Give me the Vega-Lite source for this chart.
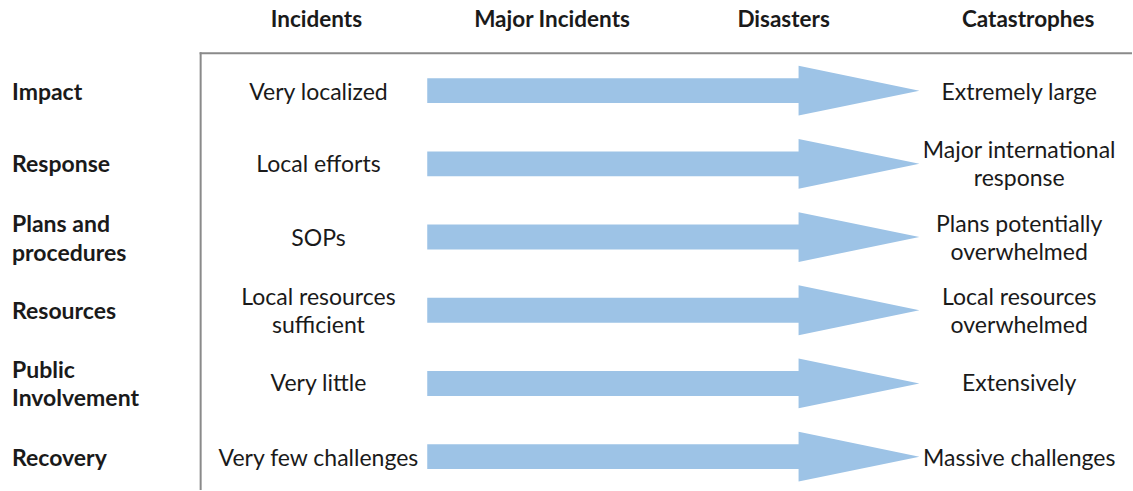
{
  "$schema": "https://vega.github.io/schema/vega-lite/v6.json",
  "width": 1133,
  "height": 491,
  "autosize": {"type": "fit", "contains": "padding"},
  "padding": 0,
  "background": "white",
  "config": {"view": {"stroke": null}},
  "datasets": {
    "box": [
      {"x": 201, "y": 53.5, "x2": 201, "y2": 491},
      {"x": 201, "y": 53.5, "x2": 1133, "y2": 53.5}
    ],
    "shafts": [
      {"row": "Impact", "x": 428, "x2": 801, "y": 78.5, "y2": 103.5},
      {"row": "Response", "x": 428, "x2": 801, "y": 152, "y2": 177},
      {"row": "Plans", "x": 428, "x2": 801, "y": 225.5, "y2": 250.5},
      {"row": "Resources", "x": 428, "x2": 801, "y": 299, "y2": 324},
      {"row": "Public", "x": 428, "x2": 801, "y": 372.5, "y2": 397.5},
      {"row": "Recovery", "x": 428, "x2": 801, "y": 446, "y2": 471}
    ],
    "heads": [
      {"row": "Impact", "x": 800, "y": 66, "y2": 116},
      {"row": "Impact", "x": 921, "y": 91, "y2": 91},
      {"row": "Response", "x": 800, "y": 139.5, "y2": 189.5},
      {"row": "Response", "x": 921, "y": 164.5, "y2": 164.5},
      {"row": "Plans", "x": 800, "y": 213, "y2": 263},
      {"row": "Plans", "x": 921, "y": 238, "y2": 238},
      {"row": "Resources", "x": 800, "y": 286.5, "y2": 336.5},
      {"row": "Resources", "x": 921, "y": 311.5, "y2": 311.5},
      {"row": "Public", "x": 800, "y": 360, "y2": 410},
      {"row": "Public", "x": 921, "y": 385, "y2": 385},
      {"row": "Recovery", "x": 800, "y": 433.5, "y2": 483.5},
      {"row": "Recovery", "x": 921, "y": 458.5, "y2": 458.5}
    ],
    "headers": [
      {"x": 317, "y": 20, "label": "Incidents"},
      {"x": 553, "y": 20, "label": "Major Incidents"},
      {"x": 785, "y": 20, "label": "Disasters"},
      {"x": 1030, "y": 20, "label": "Catastrophes"}
    ],
    "rowlabels": [
      {"x": 12, "y": 93, "label": "Impact"},
      {"x": 12, "y": 166, "label": "Response"},
      {"x": 12, "y": 226, "label": "Plans and\nprocedures"},
      {"x": 12, "y": 313, "label": "Resources"},
      {"x": 12, "y": 372.5, "label": "Public\nInvolvement"},
      {"x": 12, "y": 461, "label": "Recovery"}
    ],
    "cells": [
      {"x": 319, "y": 93, "label": "Very localized"},
      {"x": 319, "y": 166, "label": "Local efforts"},
      {"x": 319, "y": 240, "label": "SOPs"},
      {"x": 319, "y": 299, "label": "Local resources\nsufficient"},
      {"x": 319, "y": 386, "label": "Very little"},
      {"x": 319, "y": 461, "label": "Very few challenges"},
      {"x": 1021, "y": 93, "label": "Extremely large"},
      {"x": 1021, "y": 152, "label": "Major international\nresponse"},
      {"x": 1021, "y": 226, "label": "Plans potentially\noverwhelmed"},
      {"x": 1021, "y": 299, "label": "Local resources\noverwhelmed"},
      {"x": 1021, "y": 386, "label": "Extensively"},
      {"x": 1021, "y": 461, "label": "Massive challenges"}
    ]
  },
  "encoding": {
    "x": {"field": "x", "type": "quantitative", "scale": {"domain": [0, 1133], "nice": false, "zero": false}, "axis": null},
    "y": {"field": "y", "type": "quantitative", "scale": {"domain": [0, 491], "nice": false, "zero": false, "reverse": true}, "axis": null}
  },
  "layer": [
    {
      "data": {"name": "box"},
      "mark": {"type": "rule", "color": "#8a8a8a", "strokeWidth": 2, "strokeCap": "square"},
      "encoding": {
        "x2": {"field": "x2"},
        "y2": {"field": "y2"}
      }
    },
    {
      "data": {"name": "shafts"},
      "mark": {"type": "rect", "color": "#9DC3E6"},
      "encoding": {
        "x2": {"field": "x2"},
        "y2": {"field": "y2"}
      }
    },
    {
      "data": {"name": "heads"},
      "mark": {"type": "area", "color": "#9DC3E6", "opacity": 1, "orient": "vertical"},
      "encoding": {
        "y2": {"field": "y2"},
        "detail": {"field": "row", "type": "nominal"}
      }
    },
    {
      "data": {"name": "headers"},
      "mark": {"type": "text", "font": "Lato", "fontSize": 22.5, "fontWeight": "bold", "align": "center", "baseline": "middle", "color": "#1a1a1a"},
      "encoding": {"text": {"field": "label", "type": "nominal"}}
    },
    {
      "data": {"name": "rowlabels"},
      "mark": {"type": "text", "font": "Lato", "fontSize": 23, "fontWeight": "bold", "align": "left", "baseline": "middle", "lineBreak": "\n", "lineHeight": 28.5, "color": "#1a1a1a"},
      "encoding": {"text": {"field": "label", "type": "nominal"}}
    },
    {
      "data": {"name": "cells"},
      "mark": {"type": "text", "font": "Lato", "fontSize": 23, "align": "center", "baseline": "middle", "lineBreak": "\n", "lineHeight": 28, "color": "#1a1a1a"},
      "encoding": {"text": {"field": "label", "type": "nominal"}}
    }
  ]
}
